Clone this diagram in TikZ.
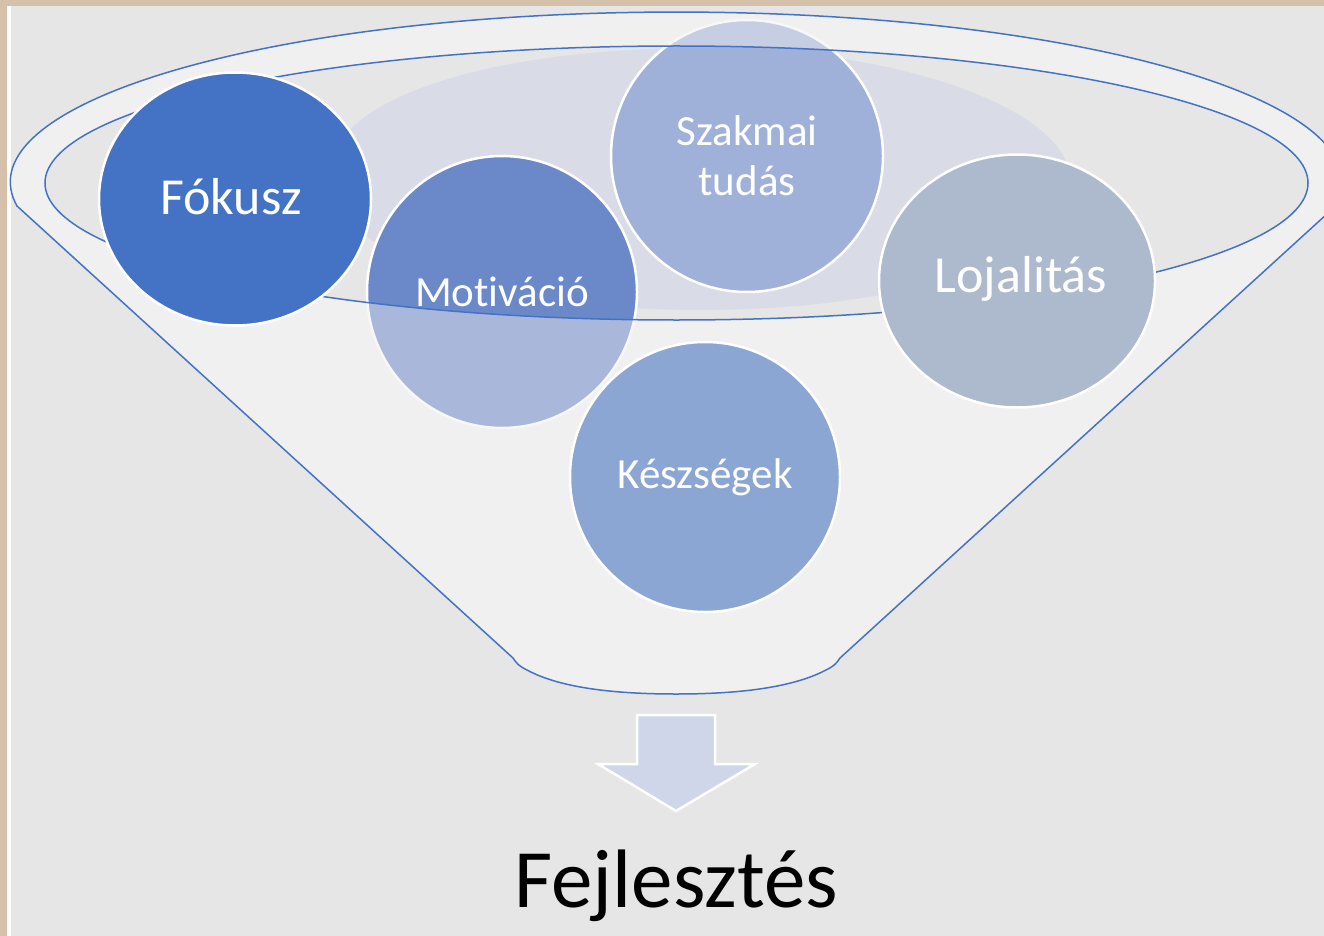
\documentclass[tikz,border=0pt]{standalone}
\usepackage{fontspec}
\setmainfont{Carlito}[Ligatures=NoCommon]
\usetikzlibrary{shapes.geometric}
\definecolor{bordertan}{HTML}{D5C0AA}
\definecolor{bggray}{HTML}{E6E6E6}
\definecolor{funfill}{HTML}{F0F0F0}
\definecolor{funline}{HTML}{4472C4}
\definecolor{liquidc}{HTML}{D9DBE6}
\definecolor{cfokusz}{HTML}{4472C4}
\definecolor{cmotiv}{HTML}{6B88C8}
\definecolor{cszak}{HTML}{9FB0D9}
\definecolor{cloja}{HTML}{ADB9CC}
\definecolor{ckesz}{HTML}{8BA6D3}
\definecolor{carrow}{HTML}{CFD6EA}
\begin{document}
\begin{tikzpicture}[x=1pt,y=1pt,
  bub/.style={ellipse, draw=white, line width=2.5pt, text=white, inner sep=0pt, align=center},
  bigtxt/.style={font=\fontsize{52}{58}\selectfont, text=white},
  midtxt/.style={font=\fontsize{43}{50}\selectfont, text=white},
  funout/.style={draw=funline, line width=1.5pt}]
\useasboundingbox (0,0) rectangle (1324,-936);
% background
\fill[bordertan] (0,0) rectangle (1324,-936);
\fill[white] (7,-6) rectangle (1324,-936);
\fill[bggray] (11,-6) rectangle (1324,-936);
% funnel body (opaque)
\fill[funfill, even odd rule] (17,-206) arc[start angle=188.1, end angle=-8.1, x radius=666, y radius=170]
  -- (840,-658) .. controls (836,-664) and (834,-666) .. (826,-670) .. controls (790,-689) and (732,-694) .. (676,-694)
  .. controls (620,-694) and (562,-689) .. (527,-670) .. controls (519,-666) and (517,-664) .. (513,-658) -- cycle
  (676.5,-183) ellipse[x radius=631.5, y radius=137];
% liquid
\begin{scope}
\clip (676.5,-183) ellipse[x radius=631.5, y radius=137];
\fill[liquidc] (330,-170) .. controls (335,-95) and (500,-48) .. (700,-48)
  .. controls (900,-48) and (1070,-110) .. (1070,-180)
  .. controls (1070,-260) and (900,-310) .. (700,-310)
  .. controls (500,-310) and (328,-260) .. (330,-170) -- cycle;
\end{scope}
% circles behind funnel front
\node[bub, fill=cszak, minimum width=272, minimum height=272, midtxt] (szak) at (747,-156) {Szakmai\\tudás};
\node[bub, fill=cmotiv, minimum width=270, minimum height=272] (motiv) at (502,-292) {};
% funnel translucent front
\fill[funfill, opacity=0.47, even odd rule] (17,-206) arc[start angle=188.1, end angle=-8.1, x radius=666, y radius=170]
  -- (840,-658) .. controls (836,-664) and (834,-666) .. (826,-670) .. controls (790,-689) and (732,-694) .. (676,-694)
  .. controls (620,-694) and (562,-689) .. (527,-670) .. controls (519,-666) and (517,-664) .. (513,-658) -- cycle
  (676.5,-183) ellipse[x radius=631.5, y radius=137];
% funnel outlines
\draw[funout, line join=round] (17,-206) arc[start angle=188.1, end angle=-8.1, x radius=666, y radius=170]
  -- (840,-658) .. controls (836,-664) and (834,-666) .. (826,-670) .. controls (790,-689) and (732,-694) .. (676,-694)
  .. controls (620,-694) and (562,-689) .. (527,-670) .. controls (519,-666) and (517,-664) .. (513,-658) -- cycle;
\draw[funout] (676.5,-183) ellipse[x radius=631.5, y radius=137];
\node[midtxt] (motivtxt) at (motiv.center) {Motiváció};
% front circles
\node[bub, fill=cfokusz, minimum width=272, minimum height=253] (fokusz) at (235,-199) {};
\node[bigtxt] (fokusztxt) at (231,-197) {Fókusz};
\node[bub, fill=cloja, minimum width=276, minimum height=253] (loja) at (1017,-281) {};
\node[bigtxt] (lojatxt) at (1021,-279) {Lojalitás};
\node[bub, fill=ckesz, minimum width=270, minimum height=270, midtxt] (kesz) at (705,-477) {Készségek};
% arrow
\filldraw[fill=carrow, draw=white, line width=2.5pt, line join=miter]
  (637,-715) -- (715,-715) -- (715,-764) -- (755,-764) -- (676,-811) -- (598,-764) -- (637,-764) -- cycle;
\node[anchor=base, font=\fontsize{83}{93}\selectfont, text=black, inner sep=0pt] (fejl) at (676.5,-907) {Fejlesztés};
\end{tikzpicture}
\end{document}
